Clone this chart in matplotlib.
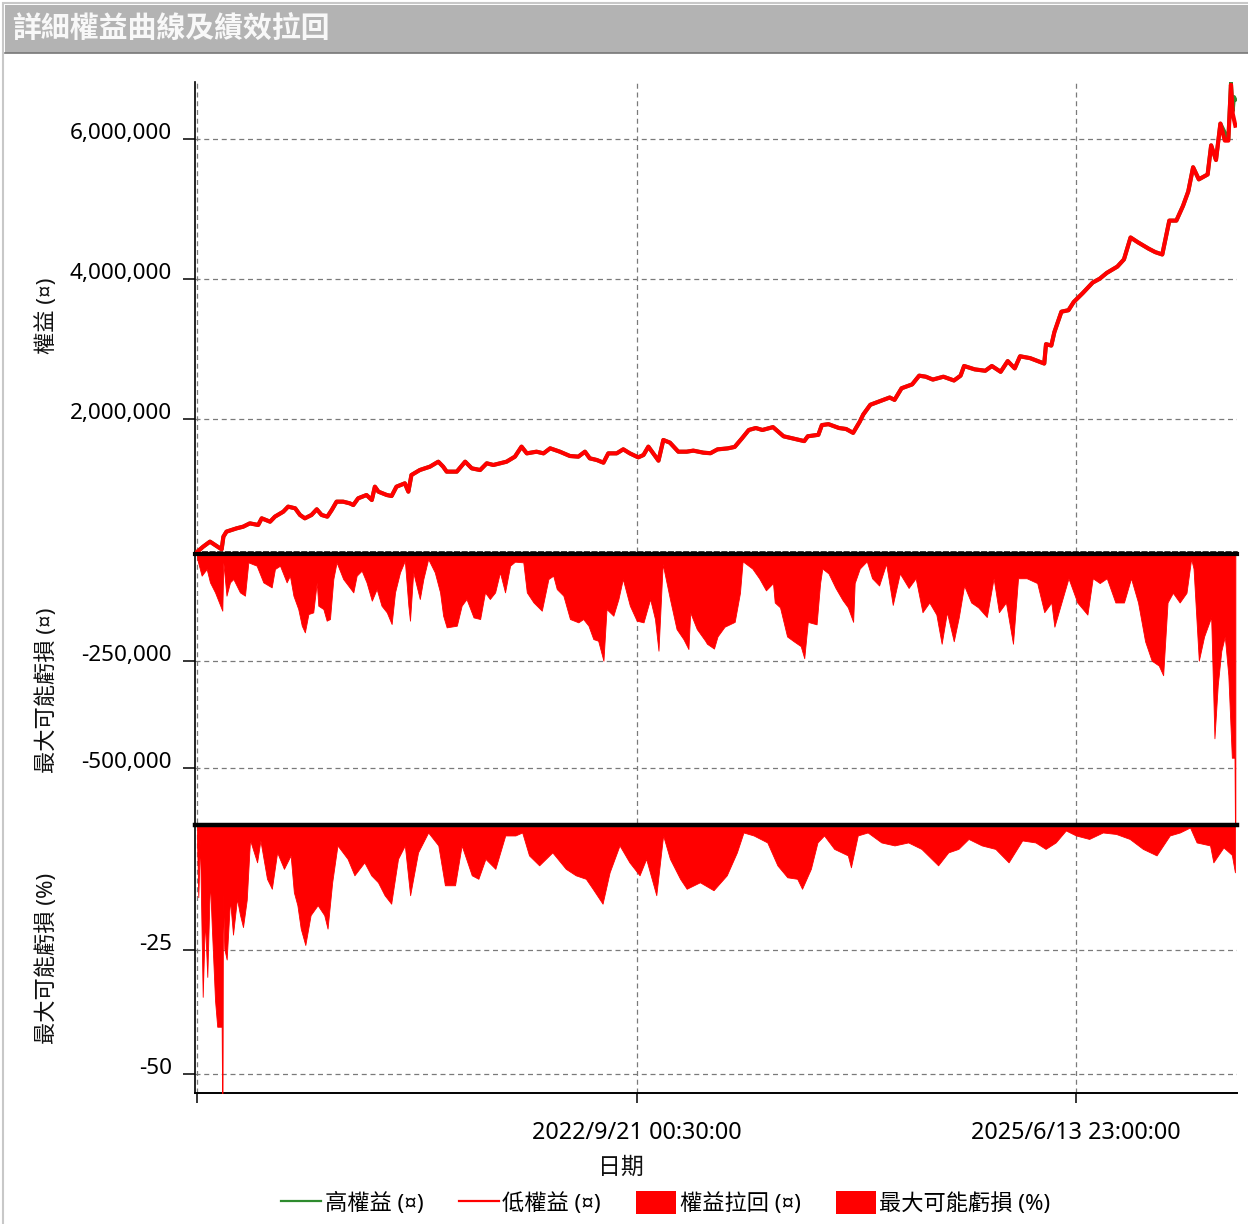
import numpy as np
import pandas as pd
import matplotlib
matplotlib.use("Agg")
import matplotlib.pyplot as plt
import matplotlib.dates as mdates
from matplotlib.lines import Line2D
from matplotlib.patches import Patch, Rectangle
from matplotlib.ticker import FuncFormatter, FixedLocator

plt.rcParams['font.family'] = ['Noto Sans', 'Noto Sans CJK TC', 'DejaVu Sans']

# ---------------- data ----------------
START = pd.Timestamp("2019-12-27 00:00")

equity_days = [0, 14, 29.5, 41, 56, 60, 67, 90, 105, 120, 139, 147, 166, 177, 196, 207, 223, 234,
               245, 260, 272, 283, 296, 306, 317, 332, 347, 355, 366, 385, 397, 404, 412, 431, 442,
               453, 472, 480, 487, 506, 529, 548, 559, 567, 590, 609, 624, 643, 658, 673, 688, 703,
               722, 737, 749, 771, 787, 802, 824, 847, 866, 881, 892, 908, 923, 934, 953, 968, 983,
               1002, 1014, 1025, 1036, 1048, 1059, 1074, 1093, 1112, 1127, 1150, 1166, 1182, 1205,
               1221, 1237, 1253, 1269, 1284, 1308, 1332, 1355, 1379, 1387, 1411, 1419, 1434, 1458,
               1474, 1490, 1505, 1513, 1529, 1553, 1573, 1584, 1600, 1624, 1640, 1655, 1671, 1695,
               1719, 1734, 1742, 1766, 1790, 1805, 1825, 1841, 1857, 1869, 1892, 1924, 1928, 1940,
               1947, 1963, 1979, 1991, 2011, 2034, 2050, 2066, 2090, 2105, 2120, 2137, 2161, 2176,
               2192, 2208, 2224, 2239, 2251, 2262, 2275, 2295, 2303, 2314, 2324, 2334, 2342, 2348,
               2352, 2358]
equity_low = [100000, 176000, 248000, 200000, 138000, 319000, 391000, 438000, 462000, 509000,
              486000, 581000, 533000, 605000, 676000, 748000, 724000, 629000, 581000, 629000,
              710000, 629000, 605000, 700000, 819000, 819000, 795000, 771000, 867000, 914000,
              843000, 1033000, 962000, 914000, 900000, 1033000, 1081000, 962000, 1200000, 1271000,
              1319000, 1390000, 1319000, 1248000, 1248000, 1390000, 1295000, 1271000, 1367000,
              1343000, 1367000, 1390000, 1462000, 1605000, 1509000, 1533000, 1509000, 1581000,
              1533000, 1471000, 1462000, 1533000, 1438000, 1414000, 1376000, 1509000, 1509000,
              1567000, 1509000, 1452000, 1486000, 1605000, 1509000, 1405000, 1700000, 1662000,
              1533000, 1533000, 1548000, 1519000, 1511000, 1566000, 1580000, 1601000, 1719000,
              1843000, 1871000, 1843000, 1884000, 1753000, 1719000, 1684000, 1753000, 1774000,
              1913000, 1926000, 1871000, 1857000, 1802000, 1961000, 2064000, 2203000, 2259000,
              2307000, 2273000, 2439000, 2494000, 2619000, 2604000, 2563000, 2604000, 2550000,
              2619000, 2757000, 2709000, 2689000, 2757000, 2674000, 2827000, 2723000, 2896000,
              2869000, 2792000, 3069000, 3049000, 3241000, 3533000, 3554000, 3672000, 3796000,
              3949000, 4004000, 4087000, 4177000, 4280000, 4593000, 4523000, 4433000, 4384000,
              4350000, 4834000, 4834000, 5043000, 5250000, 5596000, 5423000, 5493000, 5909000,
              5700000, 6220000, 5977000, 5977000, 6774000, 6359000, 6190000]

# high equity: identical to low except where it pokes out (end of series)
high_tail_days = [2342, 2348, 2352, 2355, 2358]
high_tail_vals = [5990000, 6810000, 6400000, 6600000, 6560000]

dd_days = [0, 0.5, 10.6, 22, 29.5, 41, 57.5, 59.8, 67, 75, 82.5, 97.6, 109, 116.6, 135.5, 150.6,
           169.6, 177, 188.5, 203.6, 211, 219, 230, 238, 245, 253, 264, 272, 275.5, 287, 294.5, 302,
           309.6, 317, 332, 355, 362.6, 374, 385, 397, 408, 419, 431, 442, 449.7, 461, 472, 480,
           483.7, 491, 506, 514, 525, 540, 552, 559, 567, 590, 601, 612, 628, 643, 654, 665, 677,
           688, 699.5, 711, 722, 741, 749, 764, 783, 798, 809, 817, 832, 847, 866, 877, 889, 900,
           911, 923, 930, 945.5, 957, 967, 983, 998.5, 1014, 1029, 1040, 1048, 1057.5, 1074, 1089,
           1104.5, 1116, 1120, 1135, 1154, 1158, 1174, 1182, 1198, 1221, 1233, 1239, 1261, 1276.5,
           1292, 1308, 1312, 1324, 1340, 1355, 1371, 1379, 1387, 1407, 1415, 1420, 1434, 1450,
           1466, 1478, 1490, 1493.5, 1505, 1521, 1533, 1549, 1565, 1580, 1596, 1616, 1632, 1647.5,
           1663, 1679, 1691, 1703, 1718.5, 1730, 1742, 1758, 1774, 1793.5, 1809, 1821, 1837, 1853,
           1864.5, 1884, 1908, 1924, 1940, 1947, 1963, 1979, 1999, 2022, 2034, 2050, 2066, 2085.5,
           2105, 2121, 2137, 2153, 2168, 2184, 2194, 2204, 2216, 2231.5, 2247, 2257.6, 2263, 2275,
           2287, 2303, 2310.5, 2318, 2326, 2334, 2342, 2350, 2356, 2357, 2358]
dd_money = [0, -11700, -50600, -35000, -66200, -89600, -132400, -19500, -97300, -66200, -58400,
            -89600, -97300, -19500, -27300, -66200, -77900, -35000, -27300, -66200, -50600, -97300,
            -128500, -167400, -183000, -140200, -136300, -66200, -120700, -128500, -155700,
            -151800, -58400, -19500, -58400, -89600, -50600, -38900, -66200, -109000, -81800,
            -120700, -136300, -163500, -89600, -42800, -15600, -120700, -155700, -42800, -105100,
            -58400, -11700, -42800, -89600, -144100, -171300, -167400, -120700, -105100, -148000,
            -151800, -89600, -105100, -89600, -42800, -89600, -27300, -17900, -19500, -89600,
            -112900, -132400, -58400, -50600, -81800, -97300, -151800, -159600, -151800, -167400,
            -198600, -202500, -249200, -128500, -144100, -105100, -58400, -120700, -155700,
            -159600, -105100, -151800, -225800, -23400, -105100, -175200, -198600, -221900,
            -136300, -175200, -202500, -209500, -220800, -192500, -169800, -158500, -90600,
            -17000, -34000, -56600, -84900, -67900, -113200, -124600, -192500, -203800, -215100,
            -243400, -158500, -164200, -67900, -34000, -45300, -79300, -107600, -124600, -158500,
            -67900, -34000, -17000, -56600, -73600, -22600, -118900, -45300, -79300, -56600,
            -135900, -113200, -141500, -209500, -135900, -203800, -147200, -73600, -113200,
            -124600, -147200, -56600, -135900, -113200, -209500, -56600, -56600, -67900, -135900,
            -113200, -169800, -113200, -56600, -113200, -141500, -56600, -67900, -56600, -113200,
            -113200, -56600, -113200, -203800, -249100, -260400, -283100, -113200, -90600,
            -113200, -90600, -11300, -34000, -249100, -192500, -147200, -430300, -305700, -226500,
            -192500, -283100, -475600, -475600, -628000, -628000]

pct_days = [0, 3, 6.8, 13, 18, 23.4, 29.5, 33.4, 41, 46, 53.8, 56, 57, 58, 59, 62, 67.4, 75, 81.8,
            90.8, 97.6, 104.5, 113, 120.4, 136.5, 144, 159, 170, 182, 197.5, 212.7, 220, 228, 235.6,
            246, 258, 274, 289, 296.5, 307, 319, 342, 357.5, 380, 395.6, 411, 426, 441, 456.5, 472,
            484, 502, 525, 548, 563, 586, 601, 624, 639, 655, 677.5, 700, 723, 738.5, 754, 777, 807,
            837.5, 860, 883, 898.5, 921, 937, 959.5, 982, 1005, 1020, 1043, 1058.5, 1074, 1097,
            1112, 1142, 1173, 1203, 1226, 1241, 1264, 1295, 1318, 1340.5, 1363, 1374, 1394, 1409,
            1424, 1447, 1478, 1485, 1500.5, 1523, 1554, 1584, 1615, 1645, 1683, 1706, 1729, 1752,
            1782, 1813, 1843, 1874, 1904, 1927, 1950, 1973, 1996, 2026, 2057, 2087, 2118, 2148,
            2179, 2209, 2232, 2255, 2270, 2300.5, 2308, 2331, 2350, 2357]
dd_pct = [-3, -14.5, -2.9, -34.5, -19, -30.5, -11, -19.9, -35.2, -40.5, -40.5, -40.5, -53.8, -53.8,
          -14, -24.8, -27, -15, -22, -14.8, -18, -20.5, -15, -3, -7.5, -3.1, -10.8, -12.8, -5.5,
          -8.8, -6.1, -13.5, -16.1, -20.8, -24.1, -18.1, -16.1, -18.1, -20.8, -11.5, -4.1, -6.8,
          -10.1, -7.5, -10.1, -11.5, -14.1, -15.8, -6.8, -4.1, -14.1, -5.5, -1.5, -4.1, -12.1,
          -12.1, -4.1, -10.1, -10.8, -6.8, -8.8, -2.1, -2.1, -1.5, -6.1, -8.1, -5.5, -8.8, -10.1,
          -10.8, -12.8, -15.8, -9.5, -4.1, -7.5, -10.1, -6.8, -14.1, -2.1, -6.8, -10.8, -12.8,
          -11.5, -13.1, -10.1, -5.5, -1.5, -2.1, -3.5, -8.1, -10.5, -10.8, -12.8, -8.8, -3.5, -2.1,
          -4.8, -6.1, -8.5, -2.1, -1.5, -3.5, -4.1, -3.5, -4.8, -8.1, -5.5, -4.8, -2.8, -4.1, -4.8,
          -7.5, -3.1, -3.5, -4.8, -3.5, -1.1, -2.1, -2.8, -1.5, -1.8, -2.8, -4.8, -6.1, -2.1, -1.5,
          -0.5, -3.5, -4.1, -7.5, -4.5, -6.0, -9.5]

x_tick_dates = ["2019-12-27 00:00", "2022-09-21 00:30", "2025-06-13 23:00"]
x_tick_labels = ["", "2022/9/21 00:30:00", "2025/6/13 23:00:00"]
equity_ticks = [2000000, 4000000, 6000000]
money_ticks = [-250000, -500000]
pct_ticks = [-25, -50]

title_text = "詳細權益曲線及績效拉回"
legend_labels = ["高權益 (¤)", "低權益 (¤)", "權益拉回 (¤)", "最大可能虧損 (%)"]

# ---------------- helpers ----------------
def to_dates(days):
    return START + pd.to_timedelta(np.asarray(days, dtype=float), unit="D")

W_PX, H_PX = 1248, 1224
def fx(px):
    return px / W_PX
def fy(px):
    return 1 - px / H_PX

RED = "#ff0000"
GREEN = "#2e8b2e"
GRID = "#7a7a7a"

fig = plt.figure(figsize=(12.48, 12.24), dpi=100)
fig.patch.set_facecolor("white")

# outer frame + title bar
fig.patches.append(Rectangle((fx(3), -0.01), 1.02, fy(3) + 0.01, transform=fig.transFigure,
                             facecolor="none", edgecolor="#c8c8c8", lw=1.5, zorder=0))
fig.patches.append(Rectangle((fx(5), fy(53)), 1.0, 48 / H_PX, transform=fig.transFigure,
                             facecolor="#b3b3b3", edgecolor="none", zorder=1))
fig.lines.append(Line2D([fx(5), 1], [fy(53), fy(53)], transform=fig.transFigure,
                        color="#777777", lw=1.2))
fig.text(fx(12), fy(29), title_text, color="#f8f8f8", fontsize=20.8, fontweight="bold",
         va="center", ha="left", family=["Noto Sans CJK TC"])

L, R = fx(195), fx(1237)
ax1 = fig.add_axes([L, fy(552), R - L, (552 - 82) / H_PX])
ax2 = fig.add_axes([L, fy(823), R - L, (823 - 554) / H_PX], sharex=ax1)
ax3 = fig.add_axes([L, fy(1093), R - L, (1093 - 825) / H_PX], sharex=ax1)

eq_x = to_dates(equity_days)
high_vals = list(equity_low[:-len(high_tail_vals)]) + list(high_tail_vals)
high_x = to_dates(list(equity_days[:-len(high_tail_days)]) + list(high_tail_days))
ax1.plot(high_x, high_vals, color=GREEN, lw=2.8, zorder=3)
ax1.plot(eq_x, equity_low, color=RED, lw=3.0, zorder=4)

ax2.fill_between(to_dates(dd_days), dd_money, 0, color=RED, lw=0.6, edgecolor=RED, zorder=3)
ax3.fill_between(to_dates(pct_days), dd_pct, 0, color=RED, lw=0.6, edgecolor=RED, zorder=3)

xmin = START - pd.Timedelta(days=4.5)
xmax = START + pd.Timedelta(days=2361.7)
ax1.set_xlim(xmin, xmax)
ax1.set_ylim(100000, 6814000)
ax2.set_ylim(-628000, 0)
ax3.set_ylim(-53.8, 0)

xt = [mdates.date2num(pd.Timestamp(d)) for d in x_tick_dates]
for ax in (ax1, ax2, ax3):
    ax.xaxis.set_major_locator(FixedLocator(xt))
    ax.set_facecolor("white")
    ax.spines["right"].set_visible(False)
    ax.spines["left"].set_color("black")
    ax.spines["left"].set_linewidth(1.2)
    ax.grid(True, color=GRID, linestyle=(0, (4, 3)), lw=0.9, zorder=1)
    ax.set_axisbelow(True)
    ax.tick_params(axis="y", direction="out", length=8.6, width=1.1, pad=8,
                   labelsize=16.2, colors="black")
ax3.set_xticks(xt)
ax3.set_xticklabels(x_tick_labels)

ax1.set_yticks(equity_ticks)
ax2.set_yticks(money_ticks)
ax3.set_yticks(pct_ticks)
fmt = FuncFormatter(lambda v, p: f"{v:,.0f}")
for ax in (ax1, ax2, ax3):
    ax.yaxis.set_major_formatter(fmt)
    for lab in ax.get_yticklabels():
        lab.set_verticalalignment("baseline")

ax1.tick_params(axis="x", length=0, labelbottom=False)
ax2.tick_params(axis="x", length=0, labelbottom=False)
ax3.tick_params(axis="x", direction="out", length=7.5, width=1.1, pad=13, labelsize=16.8)

ax1.spines["top"].set_visible(False)
ax1.spines["bottom"].set_linestyle((0, (3, 2)))
ax1.spines["bottom"].set_linewidth(1.1)
ax1.spines["bottom"].set_color("black")
ax2.spines["top"].set_linewidth(3)
ax2.spines["top"].set_color("black")
ax2.spines["top"].set_zorder(6)
ax2.spines["bottom"].set_visible(False)
ax3.spines["top"].set_linewidth(3.2)
ax3.spines["top"].set_color("black")
ax3.spines["top"].set_zorder(6)
ax3.spines["bottom"].set_linewidth(1.4)
ax3.spines["bottom"].set_color("black")

# axis titles
ylab_kw = dict(rotation=90, va="center", ha="center", fontsize=16, color="#111111")
fig.text(fx(47), fy(316), "權益 (¤)", **ylab_kw)
fig.text(fx(47), fy(690), "最大可能虧損 (¤)", **ylab_kw)
fig.text(fx(47), fy(958), "最大可能虧損 (%)", **ylab_kw)
fig.text(fx(621), fy(1168), "日期", va="center", ha="center", fontsize=16.5, color="#111111")

handles = [Line2D([], [], color=GREEN, lw=1.6), Line2D([], [], color=RED, lw=1.6),
           Patch(facecolor=RED, edgecolor="none"), Patch(facecolor=RED, edgecolor="none")]
fig.legend(handles, legend_labels, loc="center", bbox_to_anchor=(fx(666), fy(1203)), ncol=4,
           frameon=False, fontsize=16, handlelength=1.8, handleheight=1.2, handletextpad=0.15,
           columnspacing=1.6, borderaxespad=0)

fig.savefig("out.png", dpi=100, facecolor="white")
